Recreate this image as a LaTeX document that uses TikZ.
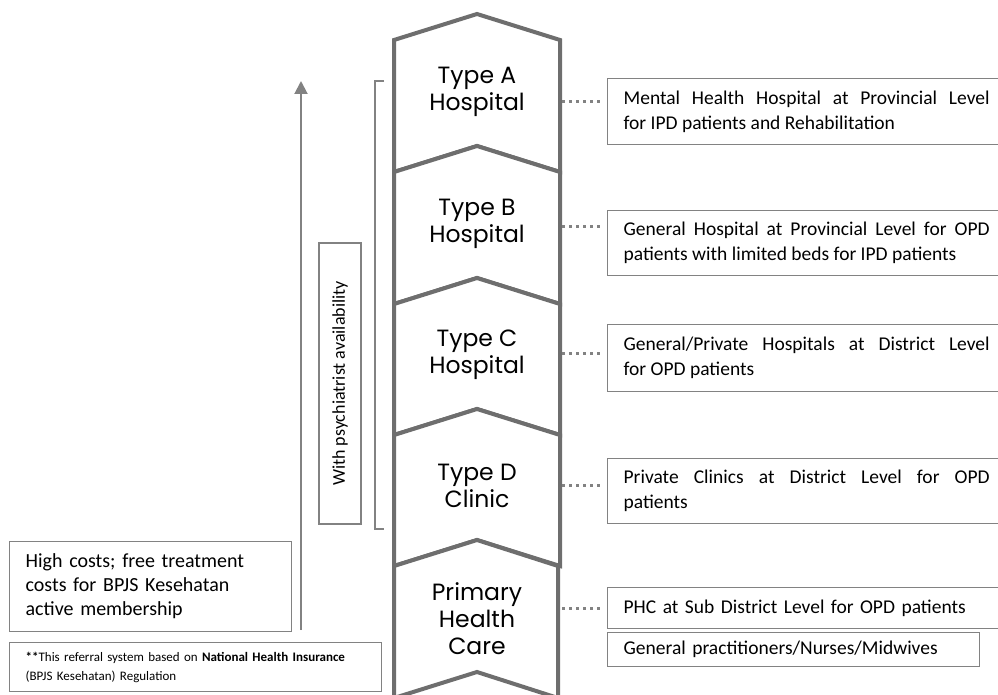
\documentclass[tikz,border=0pt]{standalone}
\usepackage{fontspec}
\setmainfont{Carlito}
\newfontfamily\levelfont{Poppins}
\usetikzlibrary{arrows.meta,positioning}
\definecolor{chevgray}{RGB}{110,110,110}
\definecolor{boxgray}{RGB}{130,130,130}
\tikzset{%
    >={Triangle[width=13pt,length=13pt]},
    chevron/.style = {draw=chevgray, line width=4pt, fill=white},
    level/.style = {align=center, font=\levelfont\fontsize{23.5}{27}\selectfont},
    info/.style = {
        draw=boxgray, line width=1.3pt, anchor=north west, inner xsep=16pt,
        inner ysep=0pt, text width=366pt, align=justify,
        font=\fontsize{19.5}{25}\selectfont
    },
    note/.style = {info, align=left},
    dots/.style = {draw=boxgray, line width=3pt, dash pattern=on 3pt off 4pt, shorten >=4pt},
}

\begin{document}
\begin{tikzpicture}[x=1pt, y=-1pt]
        \useasboundingbox (0,0) rectangle (998,695);
        \clip (0,0) rectangle (998,695);
        % Chevron column
        \draw[chevron] (394,40) -- (477,14) -- (560,40) -- (560,172) -- (477,146) -- (394,172) -- cycle;
        \draw[chevron] (394,172) -- (477,146) -- (560,172) -- (560,304) -- (477,278) -- (394,304) -- cycle;
        \draw[chevron] (394,304) -- (477,278) -- (560,304) -- (560,435) -- (477,409) -- (394,435) -- cycle;
        \draw[chevron] (394,435) -- (477,409) -- (560,435) -- (560,566) -- (477,540) -- (394,566) -- cycle;
        \draw[chevron] (394,566) -- (477,540) -- (558,566) -- (558,698) -- (477,672) -- (394,698) -- cycle;

        % Nodes position
        \node (typeA)  [level] at (477,92)  {Type A\\Hospital};
        \node (typeB)  [level] at (477,224) {Type B\\Hospital};
        \node (typeC)  [level] at (477,355) {Type C\\Hospital};
        \node (typeD)  [level] at (477,486) {Type D\\Clinic};
        \node (phc)    [level] at (477,619) {Primary\\Health\\Care};

        \node (infoA)  [info, minimum height=66pt] at (607,78)
                        {Mental Health Hospital at Provincial Level\linebreak for IPD patients and Rehabilitation};
        \node (infoB)  [info, minimum height=65pt] at (607,210)
                        {General Hospital at Provincial Level for OPD\linebreak patients with limited beds for IPD patients};
        \node (infoC)  [info, minimum height=67pt] at (607,324)
                        {General/Private Hospitals at District Level\linebreak for OPD patients};
        \node (infoD)  [info, minimum height=65pt] at (607,458)
                        {Private Clinics at District Level for OPD\linebreak patients};
        \node (infoP)  [note, minimum height=41pt] at (607,587)
                        {PHC at Sub District Level for OPD patients};
        \node (staff)  [note, minimum height=34pt, text width=340pt] at (607,632)
                        {General practitioners/Nurses/Midwives};

        \node (costs)  [note, minimum height=90pt, text width=250pt, inner xsep=16pt,
                        font=\fontsize{20}{24}\selectfont] at (9,541)
                        {High costs; free treatment\\costs for BPJS Kesehatan\\active membership};
        \node (footer) [note, minimum height=49pt, text width=340pt, inner xsep=16pt,
                        font=\fontsize{13}{19}\selectfont] at (9,642)
                        {\textbf{**}This referral system based on \textbf{National Health Insurance}\\(BPJS Kesehatan) Regulation};
        \node (psych)  [draw=boxgray, line width=1.3pt, rotate=90, minimum width=281pt,
                        minimum height=42pt, font=\fontsize{18}{21}\selectfont] at (340,383.5)
                        {With psychiatrist availability};

        \coordinate (dotA) at (562,102);
        \coordinate (dotB) at (562,226);
        \coordinate (dotC) at (562,353);
        \coordinate (dotD) at (562,485);
        \coordinate (dotP) at (562,608);
        \coordinate (arrowFoot) at (301,630);
        \coordinate (arrowTip)  at (301,81);

        % Arrow specification
        \draw[dots] (dotA) -- (dotA -| infoA.west);
        \draw[dots] (dotB) -- (dotB -| infoB.west);
        \draw[dots] (dotC) -- (dotC -| infoC.west);
        \draw[dots] (dotD) -- (dotD -| infoD.west);
        \draw[dots] (dotP) -- (dotP -| infoP.west);
        \draw[->, draw=boxgray, fill=boxgray!80!black, line width=2pt] (arrowFoot) -- (arrowTip);
        \draw[draw=boxgray, line width=1.3pt] (384,81) -- (375,81) -- (375,529) -- (384,529);
\end{tikzpicture}
\end{document}
